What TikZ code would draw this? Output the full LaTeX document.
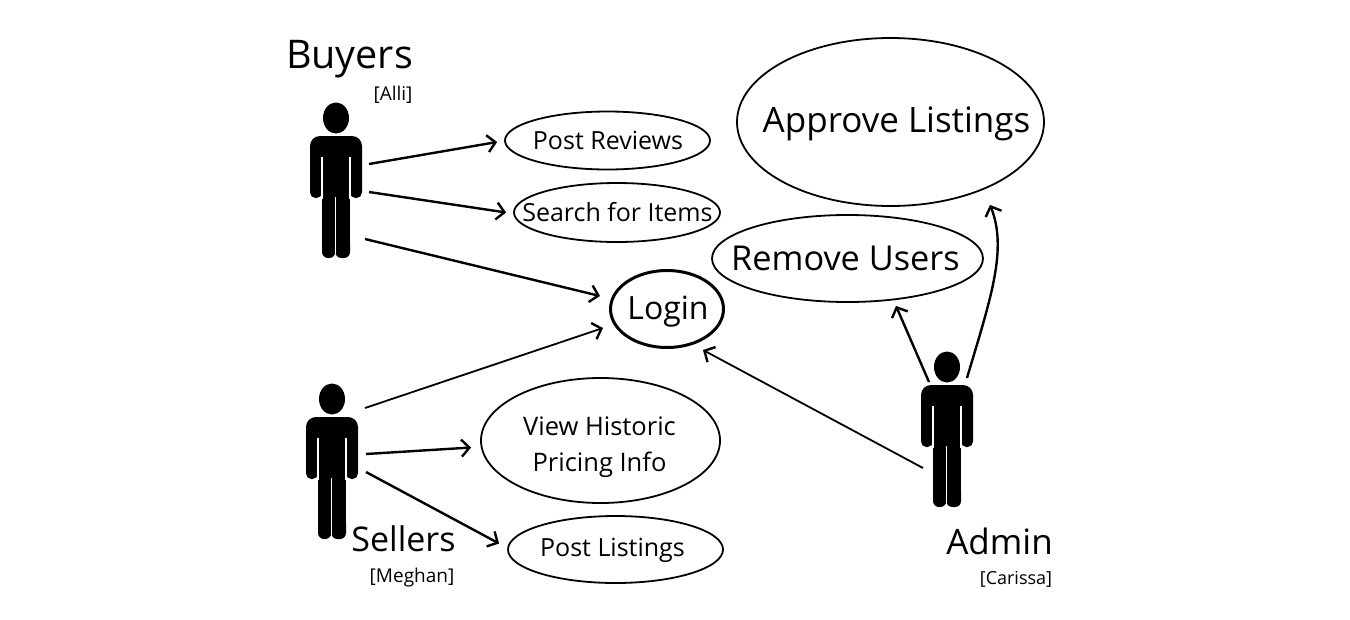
\documentclass[tikz,border=0pt]{standalone}
\usepackage{fontspec}
\setmainfont{Open Sans}
\usetikzlibrary{shapes.geometric,arrows.meta}
\newcommand{\fsize}[1]{\fontsize{#1}{36}\selectfont}
\tikzset{
	usecase/.style={draw,ellipse,inner sep=0pt,line width=1.8pt},
	label/.style={anchor=base},
	conn/.style={line width=2.4pt,-{Straight Barb[length=8pt,width=17pt,line width=2.4pt]}},
	thinconn/.style={line width=1.8pt,-{Straight Barb[length=8pt,width=17pt,line width=2.4pt]}},
	person/.pic={
		\fill (0,-18) ellipse (13 and 15.5);
		\fill[rounded corners=10pt] (-26,40) -- (-26,0) -- (26,0) -- (26,40) -- cycle;
		\fill[rounded corners=5.5pt] (-26,25) rectangle (-14,62);
		\fill[rounded corners=5.5pt] (14,25) rectangle (26,62);
		\fill (-14,10) rectangle (14,112);
		\fill[rounded corners=6pt] (-14,100) rectangle (-0.7,122);
		\fill[rounded corners=6pt] (-0.7,100) rectangle (14,122);
		\draw[white,line width=1.1pt] (-14,21) -- (-14,63) (14,21) -- (14,63) (-0.7,61) -- (-0.7,118);
	}
}
\begin{document}
\begin{tikzpicture}[x=1pt,y=-1pt]
		\useasboundingbox (0,0) rectangle (1350,619);
		\pic (buyers) at (336,136) {person};
		\pic (sellers) at (332,417) {person};
		\pic (admin) at (947,385) {person};
		\node [usecase,minimum width=205pt,minimum height=58pt,at={(607.5,140.5)}] (review) {};
		\node [usecase,minimum width=206pt,minimum height=59pt,at={(617,212.5)}] (search) {};
		\node [usecase,line width=3pt,minimum width=113pt,minimum height=77pt,at={(667,309)}] (login) {};
		\node [usecase,minimum width=239pt,minimum height=125pt,at={(600.5,440.5)}] (view) {};
		\node [usecase,minimum width=215pt,minimum height=67pt,at={(615.5,549.5)}] (listing) {};
		\node [usecase,minimum width=307pt,minimum height=168pt,at={(890.5,122)}] (approve) {};
		\node [usecase,minimum width=271pt,minimum height=87pt,at={(847.5,258.5)}] (remove) {};
		\node [label,at={(608,149)}] (reviewtext) {\fsize{25}Post Reviews};
		\node [label,at={(617.5,221)}] (searchtext) {\fsize{25}Search for Items};
		\node [label,at={(668,319)}] (logintext) {\fsize{32}Login};
		\node [label,at={(599.5,435)}] (viewtext) {\fsize{25.5}View Historic};
		\node [label,at={(599.5,471)}] (pricetext) {\fsize{25.5}Pricing Info};
		\node [label,at={(612.5,556)}] (listingtext) {\fsize{25}Post Listings};
		\node [label,at={(896.5,132)}] (approvetext) {\fsize{35}Approve Listings};
		\node [label,at={(845.5,270)}] (removetext) {\fsize{34.3}Remove Users};
		\node [label,at={(349.5,68)}] (buyerstext) {\fsize{39.5}Buyers};
		\node [label,at={(393,100)}] (allitext) {\fsize{19}[Alli]};
		\node [label,at={(403.5,551)}] (sellerstext) {\fsize{34}Sellers};
		\node [label,at={(412,582)}] (meghantext) {\fsize{19}[Meghan]};
		\node [label,at={(999.5,554)}] (admintext) {\fsize{35}Admin};
		\node [label,at={(1016,584)}] (carissatext) {\fsize{18}[Carissa]};
		\coordinate (buyersA) at (369,164);
		\coordinate (buyersB) at (369,192);
		\coordinate (buyersC) at (365,239);
		\coordinate (sellersA) at (365,408);
		\coordinate (sellersB) at (366,454);
		\coordinate (sellersC) at (366,472);
		\coordinate (adminA) at (923,468);
		\coordinate (adminB) at (929,382);
		\coordinate (adminC) at (967,378);
		\draw[conn] (buyersA) -- ([shift={(-7,1.5)}]review.west);
		\draw[conn] (buyersB) -- ([shift={(-7,0)}]search.west);
		\draw[conn] (buyersC) -- ([shift={(-9,-13)}]login.west);
		\draw[thinconn] (sellersA) -- ([shift={(-6,19)}]login.west);
		\draw[conn] (sellersB) -- ([shift={(-9,7)}]view.west);
		\draw[conn] (sellersC) -- ([shift={(-8,-6)}]listing.west);
		\draw[thinconn] (adminA) -- ([shift={(36,1)}]login.south);
		\draw[conn] (adminB) -- ([shift={(48.5,3)}]remove.south);
		\draw[conn] (adminC) .. controls (990,300) and (1008,250) .. ([shift={(99.5,-2)}]approve.south);
		\end{tikzpicture}
\end{document}
